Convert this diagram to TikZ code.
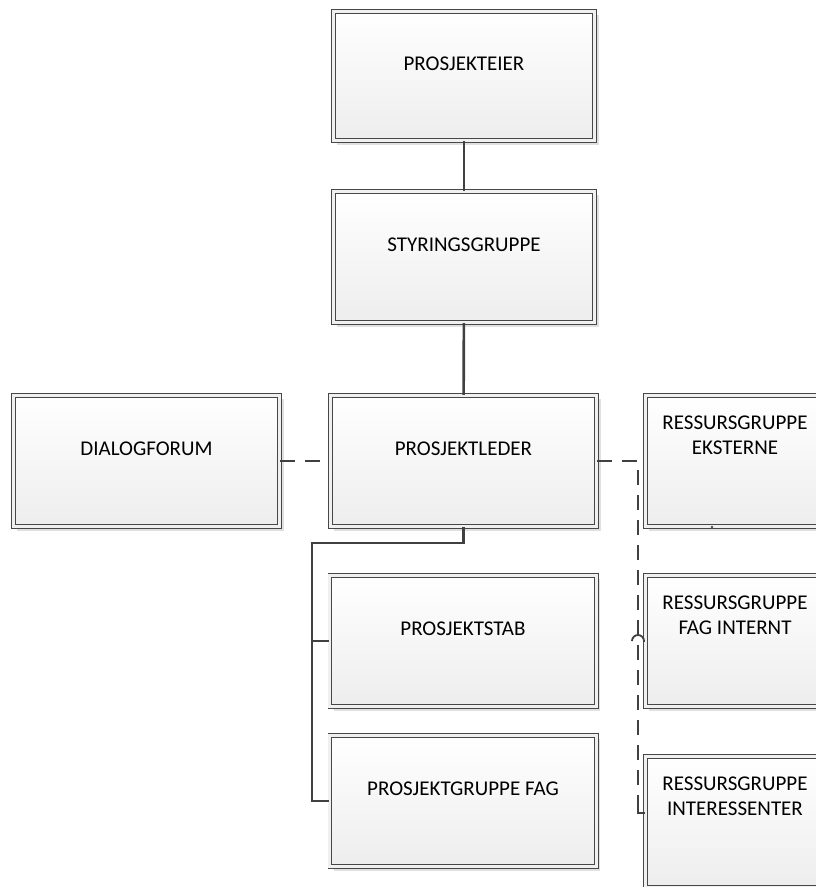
\documentclass[tikz,border=0pt]{standalone}
\usepackage{fontspec}
\setmainfont{Carlito}
\usetikzlibrary{shadows}

\begin{document}
\begin{tikzpicture}[
  x=1pt, y=-1pt,
  font=\fontsize{21}{25}\selectfont,
  box/.style={rectangle, draw=black!72, double=black!6, double distance=3pt, line width=0.8pt,
              top color=white, bottom color=black!7, align=center,
              minimum width=266.4pt, minimum height=131.4pt, text depth=24pt,
              drop shadow={shadow xshift=4pt, shadow yshift=-4pt, fill=black!12, opacity=1}},
  twoline/.style={text depth=52pt},
  link/.style={draw=black!75, line width=2.6pt},
  dlink/.style={draw=black!75, line width=2.4pt, dash pattern=on 15pt off 10pt}
]
\useasboundingbox (0,0) rectangle (816,887);
% management chain (central column)
\node[box, minimum width=261.4pt, minimum height=129.4pt] (owner) at (464,76) {PROSJEKTEIER};
\node[box, minimum width=261.4pt] (steer) at (464,257) {STYRINGSGRUPPE};
\node[box] (lead)   at (463.5,461) {PROSJEKTLEDER};
\node[box] (dialog) at (146.5,461) {DIALOGFORUM};
\node[box] (staff)  at (463,641) {PROSJEKTSTAB};
\node[box] (group)  at (463,801) {PROSJEKTGRUPPE FAG};
% resource groups, cut off at the right edge
\node[box, twoline, minimum width=179.4pt] (extern) at (735,461) {RESSURSGRUPPE\\ EKSTERNE};
\node[box, twoline, minimum width=179.4pt] (intern) at (735,641) {RESSURSGRUPPE\\ FAG INTERNT};
\node[box, twoline, minimum width=179.4pt] (stake)  at (735,822) {RESSURSGRUPPE\\ INTERESSENTER};
\draw[link] (owner) -- (steer);
\draw[link] (steer) -- (lead);
\coordinate (trunk) at (312,543);
\draw[link] (lead.south) |- (trunk) |- (group.west);
\draw[link] (trunk |- staff.west) -- (staff.west);
\draw[dlink] (dialog) -- (lead);
\coordinate (bus) at (638,461);
\coordinate (hop) at (632,641);
\coordinate (foot) at (638,813);
\draw[dlink] (lead.east) -- (extern.west);
\draw[dlink] (lead.east) -- (bus) -- (foot);
\draw[link, line width=2pt] ([yshift=8pt]foot) -- (foot) -- (stake.west |- foot);
\draw[draw=black!75, line width=1.8pt] (hop) arc[start angle=180, end angle=360, radius=6] -- (intern.west);
\fill[black!70] (712,527) circle (1.3);
\end{tikzpicture}
\end{document}
